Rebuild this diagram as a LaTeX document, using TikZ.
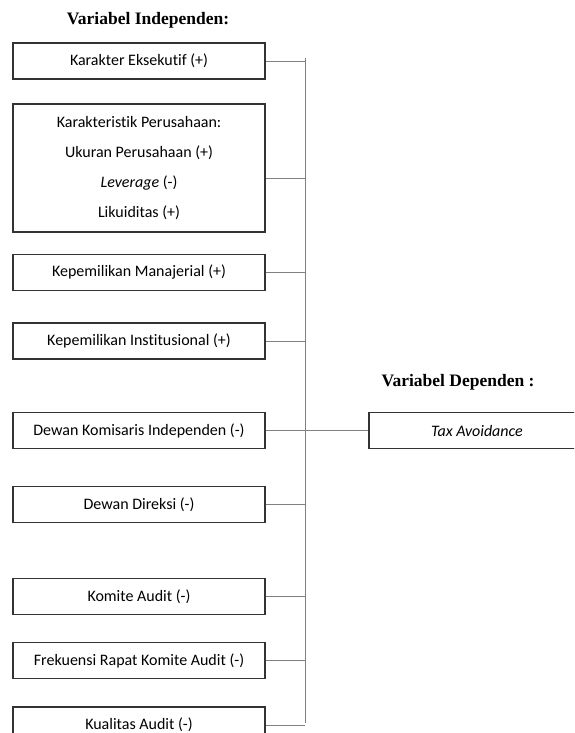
\documentclass[tikz,border=0pt]{standalone}
\usepackage{fontspec}
\setmainfont[Ligatures=NoCommon]{Carlito}
\newfontfamily\titlefont{Liberation Serif}
\usetikzlibrary{positioning}

\begin{document}
\begin{tikzpicture}[x=1pt,y=-1pt,
		varbox/.style={draw=black!80, line width=1.3pt, minimum width=252pt, minimum height=36pt, inner sep=0pt, font=\fontsize{16}{18}\selectfont},
		vartitle/.style={font=\titlefont\bfseries\fontsize{17.5}{20}\selectfont},
		link/.style={draw=black!50, line width=0.9pt}]
		\useasboundingbox (0,0) rectangle (574,733);
		\clip (0,0) rectangle (574,733);
		\node (indep) at (148,20) [vartitle] {Variabel Independen:};
		\node (dep) at (458,382) [vartitle] {Variabel Dependen :};
		\node (ke) at (139,61)    [varbox] {Karakter Eksekutif (+)};
		\node (kp) at (139,168)   [varbox, minimum height=128pt, align=center, font=\fontsize{16}{30}\selectfont]
			{Karakteristik Perusahaan:\\Ukuran Perusahaan (+)\\\textit{Leverage} (-)\\Likuiditas (+)};
		\node (km) at (139,272.5) [varbox] {Kepemilikan Manajerial (+)};
		\node (ki) at (139,341)   [varbox] {Kepemilikan Institusional (+)};
		\node (dk) at (139,430.5) [varbox] {Dewan Komisaris Independen (-)};
		\node (dd) at (139,504.5) [varbox] {Dewan Direksi (-)};
		\node (ka) at (139,596.5) [varbox] {Komite Audit (-)};
		\node (fr) at (139,660.5) [varbox] {Frekuensi Rapat Komite Audit (-)};
		\node (kq) at (139,725)   [varbox] {Kualitas Audit (-)};
		\node (tax) at (477,430.5) [varbox, minimum width=216pt] {\textit{Tax Avoidance}};
		% garis penghubung
		\coordinate (top) at (305,58);
		\coordinate (bot) at (305,723);
		\draw[link] (top) -- (bot);
		\foreach \n in {ke,km,ki,dd,ka,fr,kq}
			\draw[link] (\n.east) -- (\n.east -| top);
		\draw[link] ([yshift=-10pt]kp.east) -- ([yshift=-10pt]kp.east -| top);
		\draw[link] (dk.east) -- (tax.west);
	\end{tikzpicture}
\end{document}
